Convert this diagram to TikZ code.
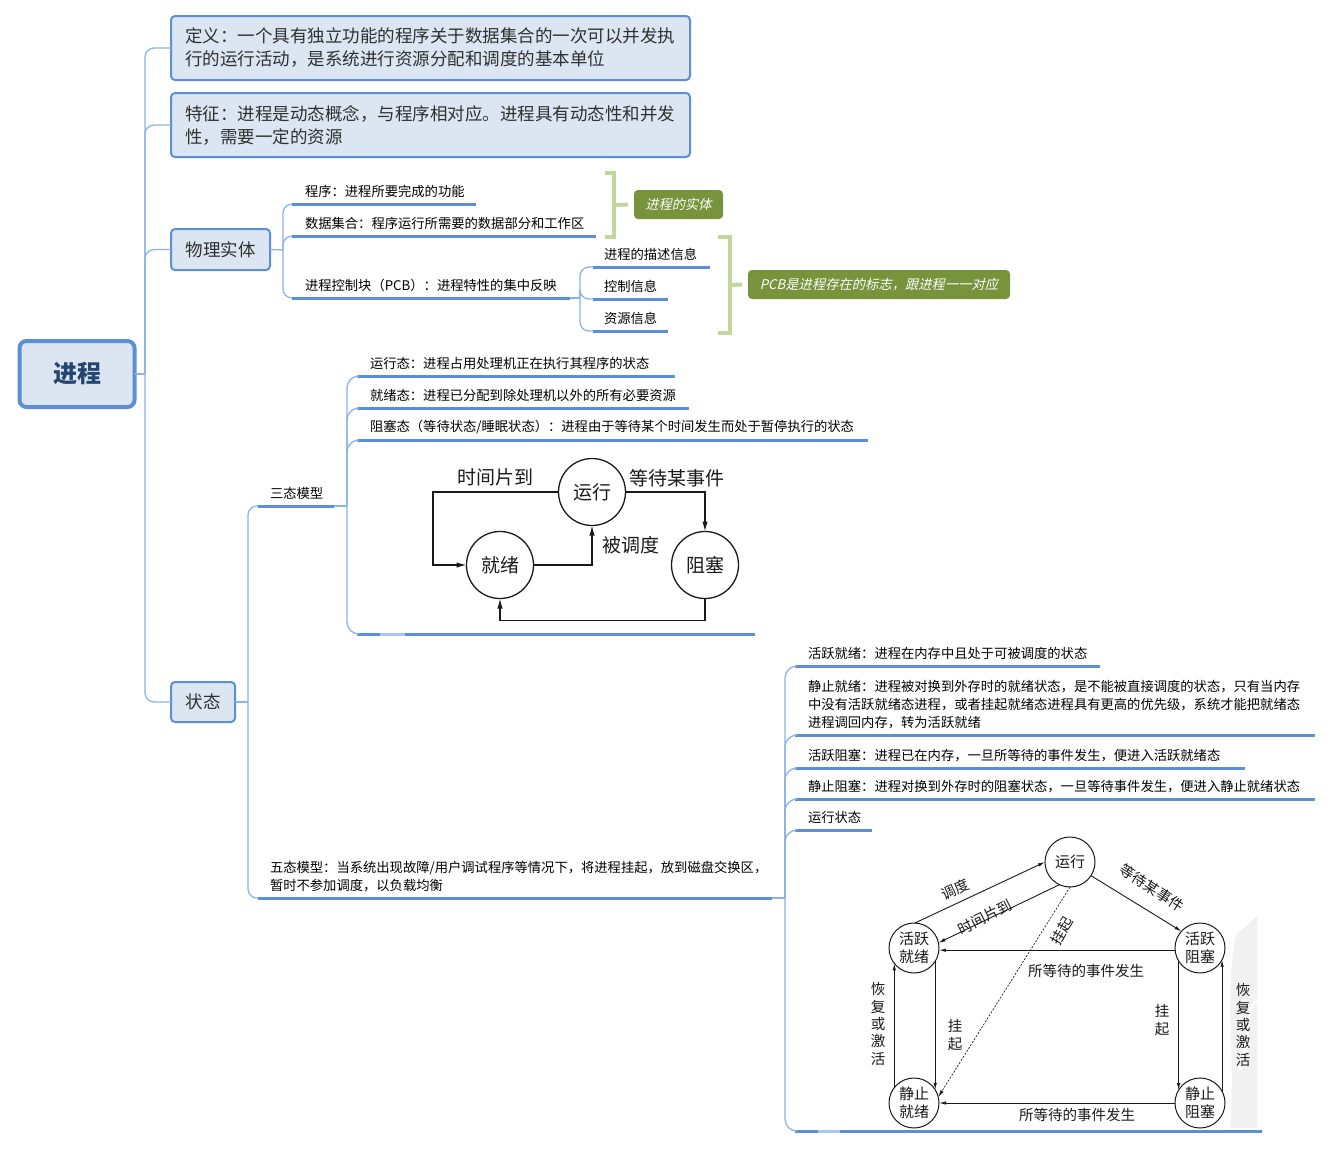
\documentclass[tikz,border=0pt]{standalone}
\usepackage{fontspec}
\setmainfont{Noto Sans CJK SC}
\newfontfamily\tagfont{Noto Sans CJK SC}[FakeSlant=0.22]
\usetikzlibrary{arrows.meta}
\definecolor{boxfill}{HTML}{DCE6F2}
\definecolor{boxedge}{HTML}{5B8FD6}
\definecolor{branch}{HTML}{8DB3E2}
\definecolor{ulinec}{HTML}{5B8FD6}
\definecolor{ulinelt}{HTML}{A9C6EE}
\definecolor{tagfill}{HTML}{77933C}
\definecolor{bracketc}{HTML}{C3D69B}
\definecolor{ink}{HTML}{303030}
\definecolor{rootink}{HTML}{24466F}
\definecolor{scan}{HTML}{1A1A1A}
\definecolor{smudge}{HTML}{F1F1F1}

\tikzset{
  box/.style={draw=boxedge, fill=boxfill, line width=2pt, rounded corners=4pt,
    anchor=north west, text=ink, inner xsep=14pt, align=left,
    font=\fontsize{17.5}{23}\selectfont},
  topic/.style={anchor=south west, inner xsep=13pt, inner ysep=6pt, align=left,
    text=black, font=\fontsize{13.3}{18}\selectfont},
  link/.style={draw=branch, line width=1.3pt, rounded corners=9pt},
  underl/.style={draw=ulinec, line width=3pt},
  tag/.style={fill=tagfill, rounded corners=4pt, text=white, anchor=north west,
    font=\tagfont\fontsize{13.3}{16}\selectfont},
  brk/.style={draw=bracketc, line width=4pt},
  st3/.style={circle, draw=scan, line width=1.3pt, minimum size=67pt,
    font=\fontsize{19}{19}\selectfont, text=scan},
  ar3/.style={draw=scan, line width=1.3pt, -{Latex[length=10pt,width=5.5pt]}},
  lb3/.style={font=\fontsize{19}{19}\selectfont, text=scan},
  st5/.style={circle, draw=scan, line width=1pt, minimum size=50pt, align=center,
    font=\fontsize{15}{18}\selectfont, text=scan},
  ar5/.style={draw=scan, line width=0.9pt, -{Latex[length=7pt,width=3.5pt]}},
  lb5/.style={font=\fontsize{14.5}{17.3}\selectfont, text=scan, align=center},
}

\begin{document}
\begin{tikzpicture}[x=1pt, y=-1pt, every node/.style={inner sep=0pt, outer sep=0pt}]
\useasboundingbox[fill=white] (0,0) rectangle (1339,1149);

% ---------- root and first level ----------
\node[draw=boxedge, fill=boxfill, line width=4pt, rounded corners=7pt,
      minimum width=115pt, minimum height=66pt, text=rootink,
      font=\fontsize{24}{24}\selectfont\bfseries] (root) at (77,374) {进程};

\node[box, text width=491pt, minimum height=64pt] (def) at (171,16)
  {定义：一个具有独立功能的程序关于数据集合的一次可以并发执\\行的运行活动，是系统进行资源分配和调度的基本单位};
\node[box, text width=491pt, minimum height=64pt] (feat) at (171,93)
  {特征：进程是动态概念，与程序相对应。进程具有动态性和并发\\性，需要一定的资源};
\node[box, minimum width=99pt, minimum height=41pt] (phys) at (171,229) {物理实体};
\node[box, minimum width=64pt, minimum height=40pt] (state) at (171,682) {状态};

\coordinate (hub0) at (145,374);
\draw[link] (root.east) -- (hub0);
\draw[link] (hub0) |- (def.west);
\draw[link] (hub0) |- (feat.west);
\draw[link] (hub0) |- (phys.west);
\draw[link] (hub0) |- (state.west);

% ---------- physical entity ----------
\node[topic, text width=158pt] (prog) at (292,204) {程序：进程所要完成的功能};
\node[topic, text width=278pt] (data) at (292,236) {数据集合：程序运行所需要的数据部分和工作区};
\node[topic, text width=252pt] (pcb) at (292,298) {进程控制块（PCB）：进程特性的集中反映};
\foreach \n in {prog,data,pcb} \draw[underl] (\n.south west) -- (\n.south east);

\coordinate (hub1) at (283,250);
\draw[link] (phys.east) -- (hub1);
\foreach \n in {prog,data,pcb} \draw[link] (hub1) |- (\n.south west);

\node[topic, inner xsep=11pt, text width=95pt] (desc) at (593,267) {进程的描述信息};
\node[topic, inner xsep=11pt, text width=53pt] (ctrl) at (593,299) {控制信息};
\node[topic, inner xsep=11pt, text width=53pt] (res) at (593,331) {资源信息};
\foreach \n in {desc,ctrl,res} \draw[underl] (\n.south west) -- (\n.south east);

\coordinate (hub2) at (580,298);
\draw[link] (pcb.south east) -- (hub2);
\foreach \n in {desc,ctrl,res} \draw[link] (hub2) |- (\n.south west);

% summary brackets and their labels
\node[tag, minimum width=89pt, minimum height=29pt] (tag1) at (634,190) {进程的实体};
\node[tag, minimum width=262pt, minimum height=29pt] (tag2) at (748,270) {PCB是进程存在的标志，跟进程一一对应};
\draw[brk] (605,173) -- (614,173) -- (614,237) -- (605,237);
\draw[brk] (614,205) -- ([xshift=-6pt]tag1.west);
\draw[brk] (718,237) -- (730,237) -- (730,333) -- (718,333);
\draw[brk] (730,285) -- ([xshift=-6pt]tag2.west);

% ---------- states ----------
\node[topic, inner xsep=12pt, text width=52pt] (three) at (258,506) {三态模型};
\node[topic, inner xsep=12pt, text width=490pt] (five) at (258,898)
  {五态模型：当系统出现故障/用户调试程序等情况下，将进程挂起，放到磁盘交换区，\\暂时不参加调度，以负载均衡};
\foreach \n in {three,five} \draw[underl] (\n.south west) -- (\n.south east);

\coordinate (hub3) at (248,702);
\draw[link] (state.east) -- (hub3);
\foreach \n in {three,five} \draw[link] (hub3) |- (\n.south west);

% three-state model
\node[topic, text width=292pt] (run3t) at (357,376) {运行态：进程占用处理机正在执行其程序的状态};
\node[topic, text width=306pt] (rdy3t) at (357,408) {就绪态：进程已分配到除处理机以外的所有必要资源};
\node[topic, text width=485pt] (blk3t) at (357,440) {阻塞态（等待状态/睡眠状态）：进程由于等待某个时间发生而处于暂停执行的状态};
\foreach \n in {run3t,rdy3t,blk3t} \draw[underl] (\n.south west) -- (\n.south east);
\coordinate (img3) at (357,634);
\coordinate (img3end) at (755,634);
\draw[underl] (img3) -- (img3end);
\draw[draw=ulinelt, line width=3pt] (380,634) -- (405,634);

\coordinate (hub4) at (347,506);
\draw[link] (three.south east) -- (hub4);
\foreach \n in {run3t,rdy3t,blk3t} \draw[link, rounded corners=12pt] (hub4) |- (\n.south west);
\draw[link, rounded corners=12pt] (hub4) |- (img3);

\node[st3] (run3) at (592,492) {运行};
\node[st3] (rdy3) at (500,565) {就绪};
\node[st3] (blk3) at (705,565) {阻塞};
\draw[ar3] (run3.west) -- (433,492) |- (rdy3.west);
\draw[ar3] (rdy3.east) -| (run3.south);
\draw[ar3] (run3.east) -| (blk3.north);
\draw[ar3] (blk3.south) -- ++(0,22) -| (rdy3.south);
\node[lb3] (l3a) at (495,477) {时间片到};
\node[lb3] (l3b) at (677,478) {等待某事件};
\node[lb3] (l3c) at (631,545) {被调度};

% five-state model
\node[topic, text width=279pt] (ar5t) at (795,666) {活跃就绪：进程在内存中且处于可被调度的状态};
\node[topic, text width=494pt] (sr5t) at (795,735)
  {静止就绪：进程被对换到外存时的就绪状态，是不能被直接调度的状态，只有当内存\\中没有活跃就绪态进程，或者挂起就绪态进程具有更高的优先级，系统才能把就绪态\\进程调回内存，转为活跃就绪};
\node[topic, text width=424pt] (ab5t) at (795,768) {活跃阻塞：进程已在内存，一旦所等待的事件发生，便进入活跃就绪态};
\node[topic, text width=494pt] (sb5t) at (795,799) {静止阻塞：进程对换到外存时的阻塞状态，一旦等待事件发生，便进入静止就绪状态};
\node[topic, text width=51pt] (rs5t) at (795,830) {运行状态};
\foreach \n in {ar5t,sr5t,ab5t,sb5t,rs5t} \draw[underl] (\n.south west) -- (\n.south east);
\coordinate (img5) at (795,1131);
\coordinate (img5end) at (1262,1131);
\draw[underl] (img5) -- (img5end);
\draw[draw=ulinelt, line width=3pt] (818,1131) -- (840,1131);

\coordinate (hub5) at (785,898);
\draw[link] (five.south east) -- (hub5);
\foreach \n in {ar5t,sr5t,ab5t,sb5t,rs5t} \draw[link, rounded corners=12pt] (hub5) |- (\n.south west);
\draw[link, rounded corners=12pt] (hub5) |- (img5);

% faint smudge of the scanned figure
\fill[smudge] (1257,916) -- (1257,1128) -- (1230,1128)
  .. controls (1236,1060) and (1224,990) .. (1236,935) -- cycle;
\draw[white, line width=3pt] (1257,1000) .. controls (1245,1010) and (1250,1040) .. (1240,1070);

\node[st5] (run5) at (1070,862) {运行};
\node[st5] (ar5) at (914,948) {活跃\\就绪};
\node[st5] (ab5) at (1200,948) {活跃\\阻塞};
\node[st5] (sr5) at (914,1103) {静止\\就绪};
\node[st5] (sb5) at (1200,1103) {静止\\阻塞};

\draw[ar5] (ar5.88) -- (run5.180);
\draw[ar5] (run5.245) -- (ar5.12);
\draw[ar5] (run5.327) -- (ab5.138);
\draw[ar5, dash pattern=on 2pt off 1.5pt, line width=0.7pt] (run5.270) -- (sr5.14);
\draw[ar5] (ab5.185) -- (ar5.-5);
\draw[ar5] (ar5.-32) -- (sr5.32);
\draw[ar5] (sr5.142) -- (ar5.218);
\draw[ar5] (ab5.211) -- (sb5.149);
\draw[ar5] (sb5.28) -- (ab5.-28);
\draw[ar5] (sb5.180) -- (sr5.0);

\node[lb5, rotate=25] (l5a) at (955,889) {调度};
\node[lb5, rotate=27] (l5b) at (985,917) {时间片到};
\node[lb5, rotate=-33] (l5c) at (1152,888) {等待某事件};
\node[lb5, rotate=60] (l5d) at (1062,931) {挂起};
\node[lb5] (l5e) at (1086,971) {所等待的事件发生};
\node[lb5] (l5f) at (1077,1115) {所等待的事件发生};
\node[lb5] (l5g) at (955,1035) {挂\\起};
\node[lb5] (l5h) at (878,1024) {恢\\复\\或\\激\\活};
\node[lb5] (l5i) at (1162,1020) {挂\\起};
\node[lb5] (l5j) at (1243,1025) {恢\\复\\或\\激\\活};
\end{tikzpicture}
\end{document}
